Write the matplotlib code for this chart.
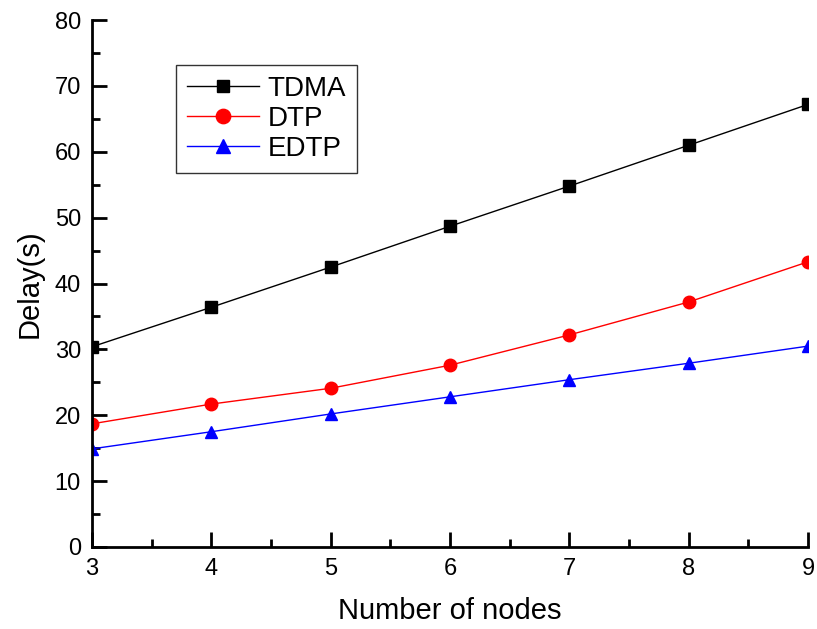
import matplotlib.pyplot as plt

nodes = [3, 4, 5, 6, 7, 8, 9]
tdma = [30.4, 36.4, 42.5, 48.7, 54.8, 61.0, 67.2]
dtp = [18.7, 21.7, 24.1, 27.6, 32.2, 37.2, 43.3]
edtp = [14.9, 17.5, 20.2, 22.8, 25.4, 27.9, 30.5]

plt.rcParams['font.family'] = ['Liberation Sans', 'DejaVu Sans']

fig = plt.figure(figsize=(8.17, 6.29), dpi=100)
ax = fig.add_axes([0.1126, 0.1304, 0.8764, 0.8376])

ax.plot(nodes, tdma, color='black', lw=1, marker='s', ms=8, label='TDMA')
ax.plot(nodes, dtp, color='red', lw=1, marker='o', ms=9, label='DTP')
ax.plot(nodes, edtp, color='blue', lw=1, marker='^', ms=9, label='EDTP')

ax.set_xlim(3, 9)
ax.set_ylim(0, 80)
ax.set_xticks(range(3, 10))
ax.set_xticks([3.5 + i for i in range(6)], minor=True)
ax.set_yticks(range(0, 81, 10))
ax.set_yticks(range(5, 80, 10), minor=True)
ax.tick_params(direction='in', labelsize=17, width=2, length=11, pad=8)
ax.tick_params(which='minor', direction='in', width=2, length=6)
for s in ['top', 'right']:
    ax.spines[s].set_visible(False)
for s in ['left', 'bottom']:
    ax.spines[s].set_linewidth(2)

ax.set_xlabel('Number of nodes', fontsize=21, labelpad=12)
ax.set_ylabel('Delay(s)', fontsize=21, labelpad=8)

leg = ax.legend(loc='upper left', bbox_to_anchor=(0.098, 0.942), fontsize=20,
                fancybox=False, edgecolor='black', handlelength=2.6,
                borderpad=0.4, labelspacing=0.15, handletextpad=0.3,
                markerscale=1.15)
leg.get_frame().set_linewidth(1)

fig.savefig('out.png', dpi=100)
